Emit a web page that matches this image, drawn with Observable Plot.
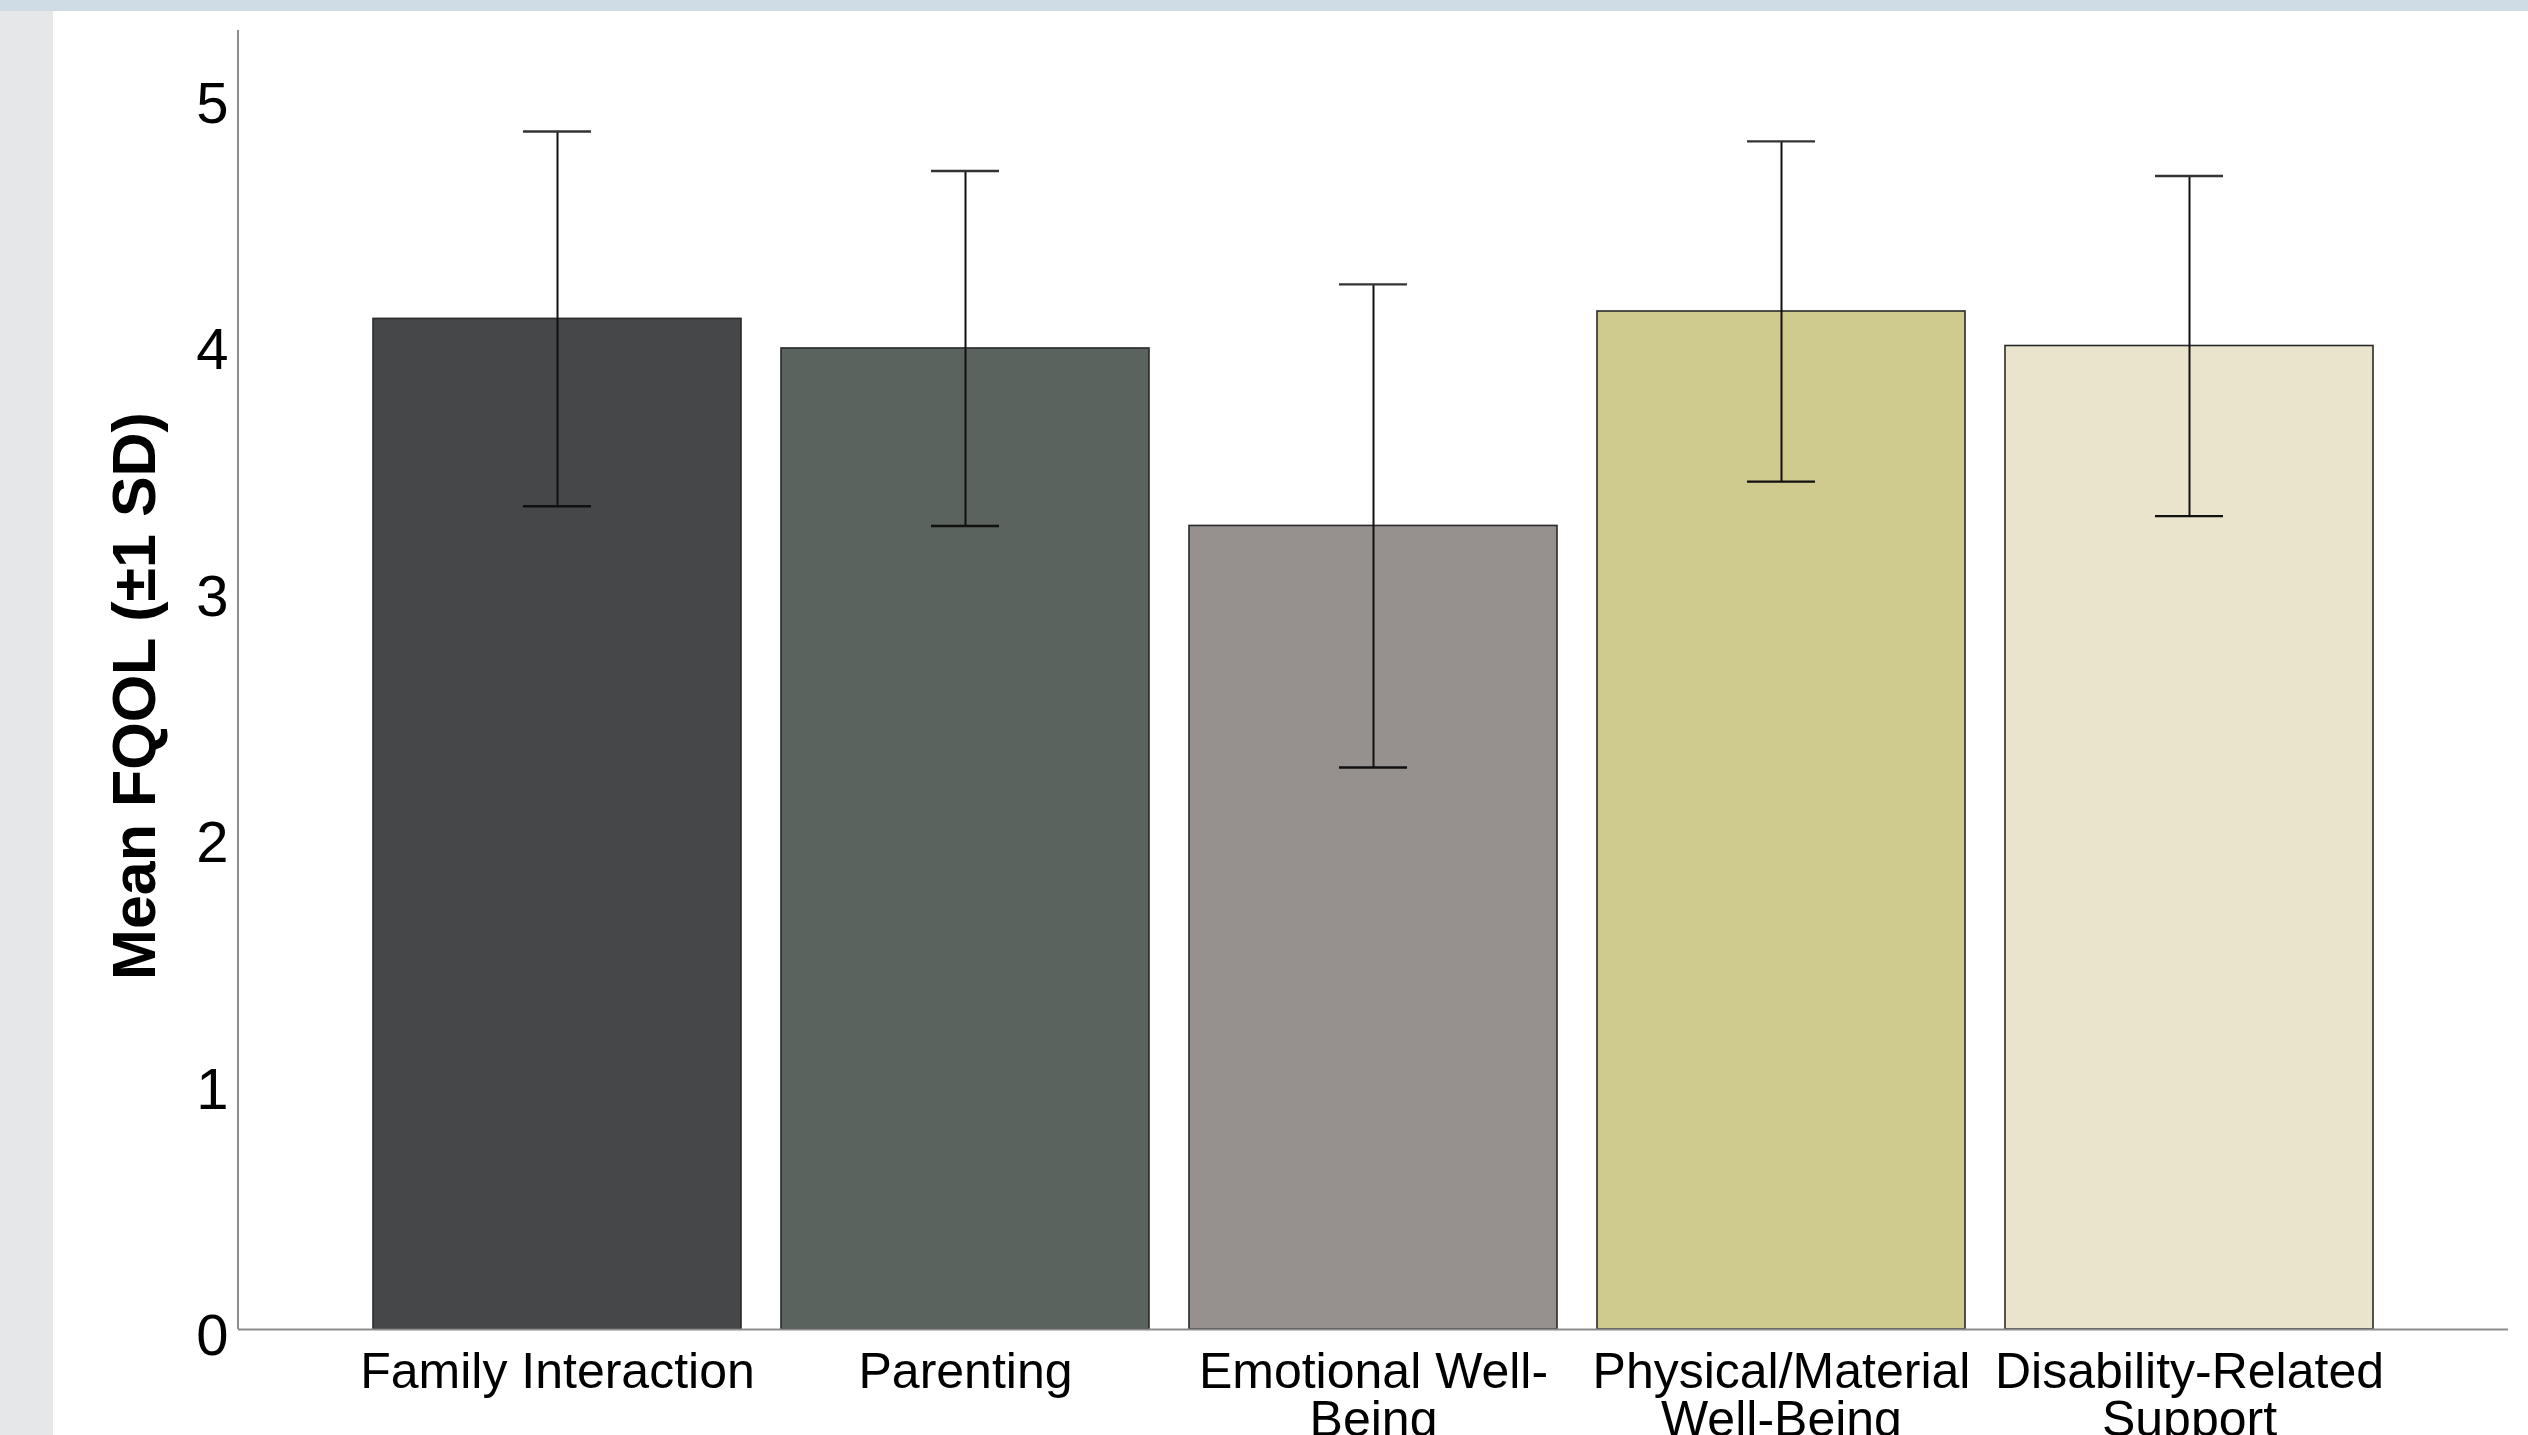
<!DOCTYPE html>
<html><head><meta charset="utf-8">
<script src="https://cdn.jsdelivr.net/npm/d3@7"></script>
<script src="https://cdn.jsdelivr.net/npm/@observablehq/plot@0.6"></script>
<style>
html,body{margin:0;padding:0;width:2528px;height:1435px;overflow:hidden;background:#e6e7e9;font-family:"Liberation Sans",Arial,sans-serif;}
#topband{position:absolute;left:0;top:0;width:2528px;height:11px;background:#d0dce5;}
#panel{position:absolute;left:53px;top:11px;width:2475px;height:1424px;background:#fff;}
#panel svg{display:block;overflow:visible;}
</style></head><body>
<div id="topband"></div><div id="panel"></div>
<script>
const categories = ["Family Interaction", "Parenting", "Emotional Well-Being", "Physical/Material Well-Being", "Disability-Related Support"];
const tickLabels = ["Family Interaction", "Parenting", "Emotional Well-\nBeing", "Physical/Material\nWell-Being", "Disability-Related\nSupport"];
const means = [4.10, 3.98, 3.26, 4.13, 3.99];
const sds = [0.76, 0.72, 0.98, 0.69, 0.69];
const colors = ["#464749", "#5a635d", "#96918f", "#cfca8d", "#eae4cd"];
const yTicks = [0, 1, 2, 3, 4, 5];
const yTitle = "Mean FQOL (\u00B11 SD)";

const data = categories.map((c, i) => ({category: c, mean: means[i], lo: means[i] - sds[i], hi: means[i] + sds[i]}));

const W = 2475, H = 1424, ML = 185, MR = 20, MT = 19, MB = 106;
const chart = Plot.plot({
  width: W, height: H,
  marginLeft: ML, marginRight: MR, marginTop: MT, marginBottom: MB,
  style: {background: "transparent", fontFamily: "'Liberation Sans', Arial, sans-serif", color: "#000", overflow: "visible"},
  x: {domain: categories, paddingInner: 0.099, paddingOuter: 0.3275, align: 0.5, label: null, axis: null},
  y: {domain: [0, 5.27], label: null, axis: null},
  color: {domain: categories, range: colors},
  marks: [
    Plot.barY(data, {x: "category", y: "mean", fill: "category", stroke: "#2a2a2a", strokeWidth: 1.6}),
    Plot.ruleX(data, {x: "category", y1: "lo", y2: "hi", stroke: "#111", strokeWidth: 2}),
    Plot.tickY(data, {x: "category", y: "lo", stroke: "#111", strokeWidth: 2.4, insetLeft: 150, insetRight: 150}),
    Plot.tickY(data, {x: "category", y: "hi", stroke: "#333", strokeWidth: 2.4, insetLeft: 150, insetRight: 150}),
    Plot.ruleY([0], {stroke: "#8c8c8c", strokeWidth: 2}),
    Plot.axisY({ticks: yTicks, tickSize: 0, tickPadding: 10, fontSize: 58, dy: 7, label: null, tickFormat: d => String(d)}),
    Plot.axisX({tickSize: 0, tickPadding: 25, fontSize: 50, lineHeight: 0.95, label: null, tickFormat: c => tickLabels[categories.indexOf(c)]}),
    Plot.text([yTitle], {frameAnchor: "left", textAnchor: "middle", rotate: -90, dx: -103, dy: 16, fontSize: 61, fontWeight: "bold", text: d => d, fill: "#000"})
  ]
});
// y axis domain line
d3.select(chart).append("line")
  .attr("x1", ML).attr("x2", ML)
  .attr("y1", MT).attr("y2", H - MB)
  .attr("stroke", "#8c8c8c").attr("stroke-width", 2);
document.getElementById("panel").appendChild(chart);
</script>
</body></html>
